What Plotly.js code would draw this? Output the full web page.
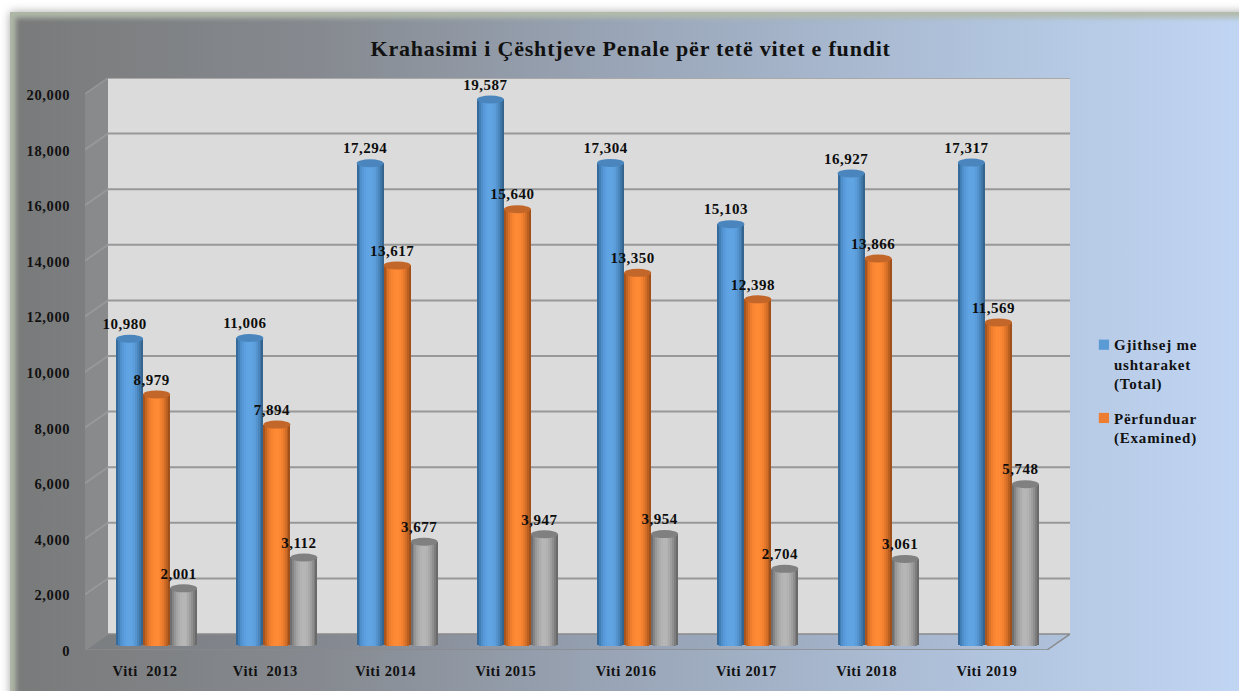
<!DOCTYPE html>
<html><head><meta charset="utf-8">
<script src="https://cdn.plot.ly/plotly-3.0.1.min.js"></script>
<style>
html,body{margin:0;padding:0;width:1239px;height:691px;overflow:hidden;background:#fff}
#bg{position:absolute;left:10px;top:12px;width:1240px;height:690px;
 background:linear-gradient(90deg,#797a7a 0%,#868a90 25%,#9aa6b8 50%,#b2c5df 80%,#c1d6f4 100%);
 box-shadow:0 0 9px rgba(0,0,0,.35), inset 6px 6px 5px rgba(178,186,170,.95);}
#chart{position:absolute;left:0;top:0;width:1239px;height:691px}
.bars path{shape-rendering:crispEdges}
.xtick text,.ytick text{letter-spacing:.6px}
.yaxislayer-above{transform:translateY(1px)}
.textpoint text{letter-spacing:.5px}
.gtitle{letter-spacing:.8px}
.legendtext{letter-spacing:.8px}
.legend .traces .legendpoints{transform:translate(13px,-9.5px) scale(.85)}
.legend .groups:nth-child(1) .traces .legendpoints{transform:translate(13px,-19px) scale(.85)}
</style></head><body>
<div id="bg"></div><div id="chart"></div>
<script>
const categories=['Viti\u00a0\u00a02012','Viti\u00a0\u00a02013','Viti 2014','Viti 2015','Viti 2016','Viti 2017','Viti 2018','Viti 2019'];
const totalValues=[10980,11006,17294,19587,17304,15103,16927,17317];
const examinedValues=[8979,7894,13617,15640,13350,12398,13866,11569];
const thirdValues=[2001,3112,3677,3947,3954,2704,3061,5748];
const yTicks=[0,2000,4000,6000,8000,10000,12000,14000,16000,18000,20000];
const totalName='Gjithsej me<br>ushtaraket<br>(Total)';
const examinedName='Përfunduar<br>(Examined)';
const titleText='Krahasimi i Çështjeve Penale për tetë vitet e fundit';

// shading across each cylinder, left edge -> right edge
const blueShade=['#356a9a','#4380b8','#4f90cb','#5799d8','#5c9fdf','#5fa3e3','#60a4e4','#60a4e4','#5fa2e2','#5b9cda','#5493cd','#4a86bc','#3f76a8','#35658f'];
const orangeShade=['#a8541c','#c56522','#dd7328','#ee7d2e','#f88432','#fd8834','#ff8a35','#ff8a35','#fb8734','#f38130','#e5782b','#d16d26','#b95f20','#a0511b'];
const grayShade=['#6f6f6f','#858585','#979797','#a4a4a4','#adadad','#b3b3b3','#b6b6b6','#b6b6b6','#b2b2b2','#aaaaaa','#9e9e9e','#8f8f8f','#7d7d7d','#6a6a6a'];
const capColors=['#4a86bd','#c2662a','#808080'];
const series=[
 {vals:totalValues,shade:blueShade,name:totalName,off:-1,legend:true,swatch:'#5b9bd5'},
 {vals:examinedValues,shade:orangeShade,name:examinedName,off:0,legend:true,swatch:'#ed7d31'},
 {vals:thirdValues,shade:grayShade,name:'',off:1,legend:false}
];

const pxL=85,pxR=1070,pxT=78,pxB=650;
const catW=120.25, pxPerUnit=556/20000;
const depthX=23/catW, depthY=16/pxPerUnit;
const xMin=-0.5, xMax=xMin+(pxR-pxL)/catW, yMax=(pxB-pxT)/pxPerUnit;
const barW=27/catW, groupShift=11.5/catW, eY=4/pxPerUnit, eBase=2.5/pxPerUnit, baseLift=6/pxPerUnit;
const labelShift=-5/catW, labelUp=19.5/pxPerUnit;
const idx=categories.map((_,i)=>i);

const traces=[], shapes=[];
// walls
shapes.push({type:'path',layer:'below',xref:'x',yref:'y',
 path:`M${xMin},0 L${xMin+depthX},${depthY} L${xMin+depthX},${yMax} L${xMin},${20000} Z`,
 fillcolor:'rgba(170,170,170,0.28)',line:{width:0}});
shapes.push({type:'rect',layer:'below',xref:'x',yref:'y',x0:xMin+depthX,x1:xMax,y0:depthY,y1:yMax,
 fillcolor:'#dbdbdb',line:{width:0}});
shapes.push({type:'path',layer:'below',xref:'x',yref:'y',
 path:`M${xMin},0 L${xMax-depthX},0 L${xMax},${depthY} L${xMin+depthX},${depthY} Z`,
 fillcolor:'rgba(120,130,145,0.10)',line:{color:'#8a8a8a',width:1.5}});
yTicks.forEach(t=>{ if(t===0) return;
 shapes.push({type:'path',layer:'below',xref:'x',yref:'y',
  path:`M${xMin},${t} L${xMin+depthX},${t+depthY} L${xMax},${t+depthY}`,
  line:{color:'#989898',width:t===20000?1.5:2}});
});

series.forEach((s,si)=>{
 const n=s.shade.length, sw=barW/n;
 const centers=idx.map(i=>i+groupShift+s.off*barW);
 s.shade.forEach((c,k)=>{
  const t=((k+0.5)/n)*2-1;
  const drop=eBase*Math.sqrt(1-t*t);
  const b=baseLift-drop;
  traces.push({type:'bar',x:centers,y:s.vals.map(v=>v+baseLift-b),base:s.vals.map(()=>b),
   width:sw,offset:-barW/2+k*sw,marker:{color:c,line:{width:0}},
   showlegend:false,hoverinfo:'skip'});
 });
 s.vals.forEach((v,i)=>{
  shapes.push({type:'circle',layer:'above',xref:'x',yref:'y',
   x0:centers[i]-barW/2,x1:centers[i]+barW/2,y0:v+baseLift-eY,y1:v+baseLift+eY,
   fillcolor:capColors[si],line:{width:0}});
 });
 traces.push({type:'scatter',mode:'text',x:centers.map(c=>c+labelShift),y:s.vals.map(v=>v+labelUp),
  text:s.vals.map(v=>v.toLocaleString('en-US')),textposition:'middle center',
  textfont:{family:'"Liberation Serif",serif',size:15,color:'#0d0d0d',weight:700},
  showlegend:false,hoverinfo:'skip'});
 if(s.legend){
  traces.push({type:'bar',x:[null],y:[null],name:s.name,legendgroup:'g'+si,marker:{color:s.swatch},showlegend:true,hoverinfo:'skip'});
 }
});

const layout={
 width:1239,height:691,autosize:false,
 paper_bgcolor:'rgba(0,0,0,0)',plot_bgcolor:'rgba(0,0,0,0)',
 margin:{l:pxL,r:1239-pxR,t:pxT,b:691-pxB,pad:0},
 barmode:'overlay',showlegend:true,
 title:{text:titleText,x:0.509,xanchor:'center',y:0.93,yanchor:'middle',
  font:{family:'"Liberation Serif",serif',size:22,color:'#111',weight:700}},
 font:{family:'"Liberation Serif",serif',color:'#111'},
 xaxis:{range:[xMin,xMax],tickmode:'array',tickvals:idx,ticktext:categories,showgrid:false,zeroline:false,
  showline:false,ticks:'outside',ticklen:8,tickcolor:'rgba(0,0,0,0)',
  tickfont:{family:'"Liberation Serif",serif',size:14.5,color:'#111',weight:700}},
 yaxis:{range:[0,yMax],tickmode:'array',tickvals:yTicks,tickformat:',d',showgrid:false,zeroline:false,
  showline:false,ticks:'outside',ticklen:11,tickcolor:'rgba(0,0,0,0)',
  tickfont:{family:'"Liberation Serif",serif',size:14.5,color:'#111',weight:700}},
 legend:{x:1.004,xanchor:'left',y:0.563,yanchor:'top',bgcolor:'rgba(0,0,0,0)',borderwidth:0,
  font:{family:'"Liberation Serif",serif',size:15,color:'#111',weight:700},tracegroupgap:12,itemclick:false,itemdoubleclick:false},
 shapes:shapes
};
Plotly.newPlot('chart',traces,layout,{displayModeBar:false,staticPlot:true});
</script>
</body></html>
